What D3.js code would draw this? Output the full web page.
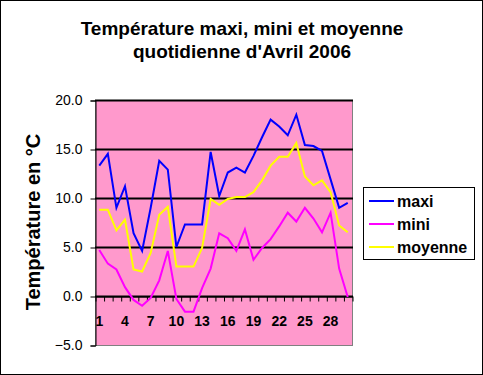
<!DOCTYPE html>
<html>
<head>
<meta charset="utf-8">
<script src="https://cdn.jsdelivr.net/npm/d3@7"></script>
<style>
  body { margin: 0; background: #fff; }
  text { font-family: "Liberation Sans", Arial, sans-serif; }
</style>
</head>
<body>
<div id="chart"></div>
<script>
const days = d3.range(1, 31)
const maxi = [13.3, 14.5, 9.0, 11.2, 6.4, 4.6, 9.0, 13.8, 12.9, 5.0, 7.3, 7.3, 7.3, 14.7, 10.2, 12.6, 13.1, 12.6, 14.3, 16.2, 18.0, 17.3, 16.4, 18.5, 15.4, 15.3, 14.8, 11.9, 9.0, 9.5]
const mini = [4.7, 3.3, 2.7, 0.9, -0.4, -1.0, -0.2, 1.6, 4.6, -0.3, -1.6, -1.6, 0.8, 2.8, 6.4, 5.9, 4.6, 6.8, 3.7, 4.9, 5.8, 7.1, 8.5, 7.6, 9.0, 7.9, 6.5, 8.5, 2.8, -0.1]
const moyenne = [8.8, 8.8, 6.7, 7.8, 2.7, 2.5, 4.4, 8.3, 9.1, 3.0, 3.0, 3.0, 4.9, 9.9, 9.3, 9.9, 10.1, 10.1, 10.6, 11.8, 13.3, 14.2, 14.2, 15.6, 12.2, 11.3, 11.8, 10.6, 7.2, 6.5]
const yTicks = [-5, 0, 5, 10, 15, 20]
const xLabels = [1, 4, 7, 10, 13, 16, 19, 22, 25, 28]

const series = [
  { name: "maxi", values: maxi, color: "#0000ff" },
  { name: "mini", values: mini, color: "#ff00ff" },
  { name: "moyenne", values: moyenne, color: "#ffff00" }
]

const W = 483, H = 375
const PLOT = { LEFT: 95, RIGHT: 352, TOP: 100, BOTTOM: 345 }

const svg = d3.select("#chart").append("svg")
  .attr("width", W)
  .attr("height", H)

svg.append("rect")
  .attr("x", 0.5).attr("y", 0.5)
  .attr("width", W - 1).attr("height", H - 1)
  .attr("fill", "#fff").attr("stroke", "#000")

// title
const title = svg.append("text")
  .attr("text-anchor", "middle")
  .attr("font-size", "19px")
  .attr("font-weight", "bold")
title.append("tspan").attr("x", 242).attr("y", 35).text("Température maxi, mini et moyenne")
title.append("tspan").attr("x", 242).attr("y", 58).text("quotidienne d'Avril 2006")

const x = d3.scaleBand()
  .domain(days)
  .range([PLOT.LEFT, PLOT.RIGHT])
  .padding(0)

const xb = d3.scaleLinear()
  .domain([0, days.length])
  .range([PLOT.LEFT, PLOT.RIGHT])

const y = d3.scaleLinear()
  .domain([-5, 20])
  .range([PLOT.BOTTOM, PLOT.TOP])

// plot area
svg.append("rect")
  .attr("x", PLOT.LEFT + 0.5).attr("y", PLOT.TOP + 0.5)
  .attr("width", PLOT.RIGHT - PLOT.LEFT).attr("height", PLOT.BOTTOM - PLOT.TOP)
  .attr("fill", "#ff99cc").attr("stroke", "#808080")

// gridlines
svg.append("g")
  .selectAll("line")
  .data(yTicks.filter(d => d > -5))
  .join("line")
    .attr("x1", PLOT.LEFT).attr("x2", PLOT.RIGHT + 1)
    .attr("y1", d => Math.round(y(d)) + 0.5)
    .attr("y2", d => Math.round(y(d)) + 0.5)
    .attr("stroke", "#000")
    .attr("stroke-width", 2)

// y axis
const yAxis = svg.append("g")
  .attr("transform", `translate(${PLOT.LEFT + 0.5}, 0.5)`)
  .call(d3.axisLeft(y).tickValues(yTicks).tickFormat(d3.format(".1f")).tickSize(5).tickPadding(8))
yAxis.select(".domain").attr("stroke", "#000")
yAxis.selectAll("text")
  .attr("font-family", "Liberation Sans, Arial, sans-serif")
  .attr("font-size", "14px")
  .attr("fill", "#000")

// x axis: tick marks at category edges
const xTickAxis = svg.append("g")
  .attr("transform", `translate(0.5, ${Math.round(y(0)) + 0.5})`)
  .call(d3.axisBottom(xb).tickValues(d3.range(0, days.length + 1)).tickFormat("").tickSize(5).tickSizeOuter(0))
xTickAxis.select(".domain").attr("stroke", "#000")

const xLabelAxis = svg.append("g")
  .attr("transform", `translate(0, ${Math.round(y(0))})`)
  .call(d3.axisBottom(x).tickValues(xLabels).tickSize(0).tickPadding(20))
xLabelAxis.select(".domain").remove()
xLabelAxis.selectAll("text")
  .attr("font-family", "Liberation Sans, Arial, sans-serif")
  .attr("font-size", "14px")
  .attr("font-weight", "bold")
  .attr("fill", "#000")

// y title
svg.append("text")
  .attr("transform", `translate(40, 222) rotate(-90)`)
  .attr("text-anchor", "middle")
  .attr("font-size", "20px")
  .attr("font-weight", "bold")
  .text("Température en °C")

// lines
const line = d3.line()
  .x((d, i) => x(days[i]) + x.bandwidth() / 2)
  .y(d => y(d))

svg.append("g")
  .selectAll("path")
  .data(series)
  .join("path")
    .attr("d", d => line(d.values))
    .attr("fill", "none")
    .attr("stroke", d => d.color)
    .attr("stroke-width", 2)

// legend
const legend = svg.append("g")
legend.append("rect")
  .attr("x", 363.5).attr("y", 187.5)
  .attr("width", 111).attr("height", 72)
  .attr("fill", "#fff").attr("stroke", "#000")

const rows = legend.selectAll("g.row")
  .data(series)
  .join("g")
    .attr("class", "row")
    .attr("transform", (d, i) => `translate(0, ${201 + i * 23})`)
rows.append("line")
  .attr("x1", 369).attr("x2", 394)
  .attr("y1", 0).attr("y2", 0)
  .attr("stroke", d => d.color)
  .attr("stroke-width", 2)
rows.append("text")
  .attr("x", 397).attr("y", 0)
  .attr("dy", "0.35em")
  .attr("font-size", "16px")
  .attr("font-weight", "bold")
  .text(d => d.name)
</script>
</body>
</html>
